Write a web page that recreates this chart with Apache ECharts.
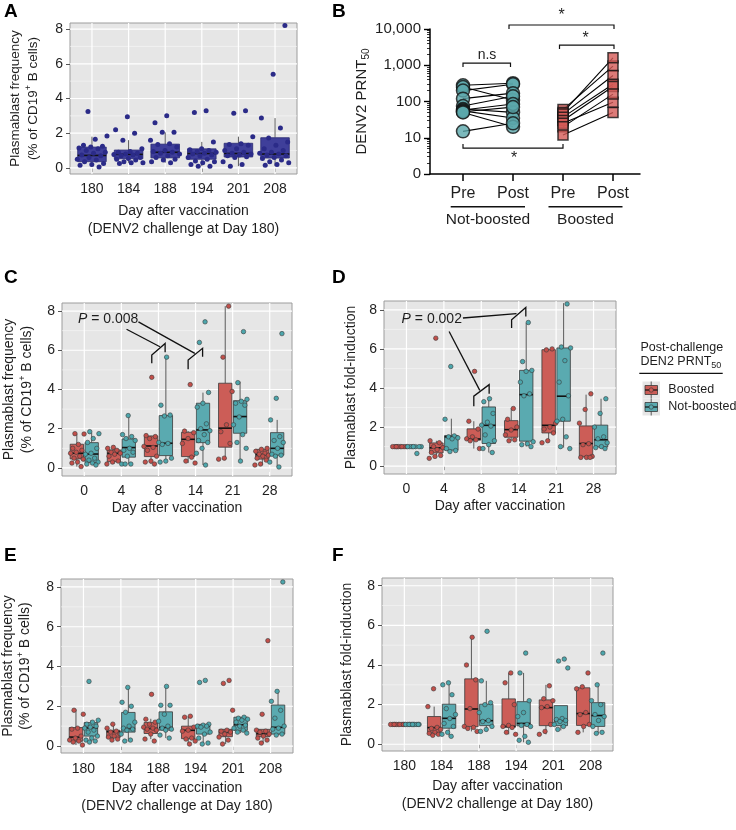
<!DOCTYPE html>
<html><head><meta charset="utf-8">
<script src="https://cdn.jsdelivr.net/npm/echarts@6/dist/echarts.min.js"></script>
<style>html,body{margin:0;padding:0;background:#fff}#c{width:736px;height:830px}</style>
</head><body><div id="c"></div>
<script>
// ================= DATA =================
const daysLate = ['180','184','188','194','201','208'];
const daysEarly = ['0','4','8','14','21','28'];
const yTickVals = [0, 2, 4, 6, 8];
const bTickLabels = ['Pre', 'Post', 'Pre', 'Post'];
const bGroupLabels = ['Not-boosted', 'Boosted'];
const legendLabels = ['Boosted', 'Not-boosted'];

// Panel A: box stats [min, q1, median, q3, max] and points per day
const A_box = [[0.05,0.36,0.72,1.2,1.8],[0.3,0.53,0.78,1.03,1.6],[0.3,0.58,0.9,1.37,2.05],[0.1,0.5,0.83,1.1,1.5],[0.1,0.63,0.83,1.42,1.8],[0.1,0.57,0.8,1.74,2.87]];
const A_pts = [
  [3.25,1.84,1.65,1.3,1.25,1.2,1.15,1.1,1.0,0.9,0.85,0.75,0.7,0.6,0.5,0.45,0.35,0.25,0.2,0.15,0.05],
  [2.95,2.2,2.0,1.6,1.1,0.95,0.9,0.85,0.8,0.78,0.75,0.7,0.6,0.55,0.5,0.45,0.35,0.3,0.3,0.25],
  [3.0,2.6,2.05,2.05,1.6,1.4,1.35,1.2,1.0,0.95,0.9,0.85,0.8,0.7,0.6,0.5,0.45,0.35,0.3],
  [3.3,3.2,1.5,1.1,1.05,1.0,0.95,0.9,0.85,0.8,0.75,0.7,0.6,0.5,0.4,0.35,0.3,0.2,0.1,0.1],
  [3.3,3.15,1.8,1.4,1.35,1.3,1.1,1.0,0.9,0.85,0.8,0.75,0.7,0.65,0.6,0.35,0.2,0.1],
  [8.2,5.4,2.87,2.3,1.72,1.5,1.3,1.1,1.0,0.9,0.85,0.8,0.75,0.7,0.6,0.55,0.45,0.35,0.3,0.2,0.15]
];

// Panel B: DENV2 PRNT50 (paired pre/post)
const nbPre  = [280, 250, 200, 120, 75, 62, 58, 55, 52, 50, 15];
const nbPost = [320, 110, 300, 170, 140, 50, 85, 35, 70, 20, 25];
const bPre   = [60, 50, 45, 37, 30, 25, 20, 12];
const bPost  = [950, 1600, 520, 300, 260, 95, 160, 50];

// Panel C
const C_red_box  = [[0.07,0.46,0.75,1.21,1.73],[0.2,0.32,0.75,0.92,1.05],[0.2,0.58,1.12,1.63,1.65],[0.25,0.58,1.46,1.82,1.88],[0.44,1.06,2.03,4.32,8.25],[0.15,0.45,0.68,0.95,1.0]];
const C_teal_box = [[0.15,0.27,0.71,1.29,1.8],[0.2,0.55,1.04,1.48,2.67],[0.3,0.63,1.26,2.67,5.65],[0.15,1.29,1.94,3.3,3.84],[0.35,1.77,2.62,3.43,4.4],[0.05,0.65,1.0,1.8,2.45]];
const C_red_pts = [
  [1.75,1.73,1.2,1.0,0.9,0.8,0.75,0.6,0.5,0.45,0.3,0.25,0.07],
  [1.05,1.0,0.9,0.8,0.75,0.7,0.6,0.35,0.3,0.2],
  [4.62,1.65,1.6,1.5,1.1,1.05,0.9,0.6,0.35,0.3,0.2],
  [4.25,1.88,1.8,1.5,1.25,0.55,0.35,0.25],
  [8.25,5.65,3.9,2.2,1.85,1.25,0.5,0.45],
  [1.0,0.95,0.85,0.75,0.7,0.65,0.6,0.5,0.4,0.2,0.15]
];
const C_teal_pts = [
  [1.85,1.75,1.5,1.3,1.0,0.75,0.7,0.5,0.4,0.3,0.25,0.2,0.15],
  [2.67,1.7,1.6,1.5,1.4,1.0,0.9,0.8,0.6,0.2,0.2,0.2],
  [5.65,3.2,2.7,2.65,1.3,1.25,1.2,0.5,0.35,0.3],
  [7.45,6.4,3.85,3.3,3.1,2.25,2.0,1.9,1.7,1.4,1.3,1.0,0.75,0.15],
  [6.95,4.35,3.5,3.4,3.3,3.2,2.6,2.2,1.7,1.3,1.0,0.35],
  [6.85,3.55,2.45,1.6,1.4,1.3,1.0,0.7,0.65,0.6,0.3,0.05]
];

// Panel D
const D_red_box  = [[1,1,1,1,1],[0.55,0.68,0.94,1.19,1.3],[0.9,1.33,1.39,1.91,2.3],[1.3,1.48,1.87,2.33,2.97],[1.2,1.7,2.09,5.96,6.0],[0.45,0.48,1.16,2.06,3.66]];
const D_teal_box = [[1,1,1,1,1],[0.75,0.82,1.5,1.57,2.43],[0.7,1.16,2.09,3.03,3.52],[1.0,1.28,3.66,4.9,7.32],[0.95,2.3,3.58,6.05,8.34],[0.9,0.98,1.35,2.1,3.45]];
const D_red_pts = [
  [1,1,1,1,1,1,1,1,1],
  [6.55,1.3,1.2,1.0,0.95,0.85,0.7,0.55,0.5,0.4],
  [4.85,2.3,1.9,1.5,1.4,1.35,1.3,0.9],
  [2.95,2.4,2.0,1.85,1.6,1.35,1.3],
  [6.0,5.95,2.2,2.0,1.9,1.7,1.3,1.2],
  [3.7,2.9,2.2,1.15,1.1,0.5,0.45,0.45,0.45]
];
const D_teal_pts = [
  [1,1,1,1,1,1,1,0.65],
  [5.1,2.4,1.55,1.5,1.45,1.4,0.9,0.8,0.75],
  [3.45,3.3,2.7,2.25,2.1,2.05,1.6,1.3,1.1,0.9,0.7],
  [7.35,5.35,4.9,4.85,4.3,3.7,3.6,1.25,1.15,1.1,1.0],
  [8.3,6.1,6.05,5.4,4.3,3.6,2.4,2.3,1.5,1.0,0.9],
  [3.45,2.7,2.0,1.5,1.4,1.2,1.0,0.95,0.9]
];

// Panel E
const E_red_box  = [[0.05,0.24,0.45,0.93,1.85],[0.3,0.42,0.72,0.79,1.1],[0.35,0.63,0.88,1.18,1.37],[0.1,0.37,0.79,1.0,1.5],[0.1,0.47,0.69,0.84,0.84],[0.15,0.47,0.62,0.84,0.84]];
const E_teal_box = [[0.2,0.5,0.91,1.18,1.3],[0.25,0.7,0.88,1.69,2.95],[0.4,0.8,0.93,1.72,3.02],[0.1,0.6,1.0,1.09,1.1],[0.65,0.79,1.07,1.45,1.45],[0.55,0.6,0.94,2.06,2.8]];
const E_red_pts = [
  [1.8,1.6,0.9,0.85,0.5,0.4,0.3,0.25,0.2,0.05],
  [1.1,0.9,0.75,0.7,0.6,0.5,0.45,0.35,0.3],
  [2.6,1.35,1.2,1.1,0.95,0.9,0.85,0.8,0.6,0.35,0.25],
  [1.5,1.45,0.95,0.8,0.75,0.4,0.35,0.25,0.1],
  [3.3,3.15,1.8,0.8,0.75,0.7,0.6,0.45,0.3,0.1],
  [5.3,1.6,0.8,0.75,0.7,0.6,0.5,0.4,0.3,0.15]
];
const E_teal_pts = [
  [3.25,1.3,1.2,1.1,1.0,0.95,0.9,0.8,0.7,0.5,0.4,0.3,0.25,0.2],
  [2.95,2.2,2.0,1.7,1.2,1.0,0.9,0.85,0.8,0.6,0.3,0.25],
  [3.0,2.05,2.05,1.6,1.25,1.0,0.9,0.85,0.8,0.55,0.4],
  [3.3,3.2,1.1,1.05,1.0,1.0,0.95,0.7,0.6,0.4,0.15,0.1],
  [1.45,1.4,1.35,1.3,1.2,1.05,1.0,0.9,0.8,0.7,0.65],
  [8.25,2.75,2.25,1.8,1.4,1.0,0.9,0.85,0.6,0.55]
];

// Panel F
const F_red_box  = [[1,1,1,1,1],[0.5,0.6,0.84,1.4,1.9],[0.65,0.89,1.78,3.3,5.41],[0.5,0.86,0.9,2.29,3.59],[0.5,0.94,1.85,2.24,3.0],[0.6,0.95,1.55,2.85,3.0]];
const F_teal_box = [[1,1,1,1,1],[0.4,0.81,1.31,2.02,3.08],[0.65,0.94,1.19,2.02,3.2],[0.1,0.93,1.05,2.15,3.6],[0.7,0.94,1.2,1.95,1.95],[0.55,0.9,1.45,2.1,3.0]];
const F_red_pts = [
  [1,1,1,1,1,1,1,1,1,1],
  [2.8,1.9,0.85,0.8,0.75,0.6,0.55,0.5,0.45],
  [5.4,4.0,3.25,1.8,0.9,0.85,0.8,0.65],
  [3.6,3.1,2.0,0.95,0.9,0.85,0.6,0.5],
  [2.95,2.3,2.2,1.9,1.85,1.0,0.65,0.5],
  [3.6,2.9,2.8,1.6,1.5,1.0,0.9,0.6]
];
const F_teal_pts = [
  [1,1,1,1,1,1,1,1,1,1,1],
  [3.1,3.0,2.5,1.8,1.5,1.3,1.05,0.9,0.6,0.5,0.4],
  [5.7,3.2,2.1,2.0,1.6,1.2,1.15,0.9,0.75,0.65],
  [4.6,3.6,2.2,1.6,1.4,1.0,0.95,0.9,0.4,0.2,0.1],
  [4.3,4.2,3.85,1.3,1.25,1.2,1.15,1.0,0.9,0.75],
  [4.6,3.0,2.2,2.0,1.5,1.4,1.2,0.9,0.6,0.55]
];

// ================= STYLE / LAYOUT =================
const FONT = '"Liberation Sans", Arial, Helvetica, sans-serif';
const TXT = '#1e1e1e';
const RED = '#cc5d57', TEAL = '#5aaab0', BLUE = '#3f3f9a';
const RED_PT = '#c24f4a', TEAL_PT = '#4ca6ac', BLUE_PT = '#2b2b88';
const PANEL_BG = '#e6e6e6', PANEL_BORDER = '#9c9c9c';

function jit(i) { const f = (i * 0.6180339887 + 0.37) % 1; return f - 0.5; }

const grids = [
  {left:70, top:23, width:227, height:151},      // A
  {left:430, top:29, width:210, height:145},     // B
  {left:62, top:303, width:230, height:173},     // C
  {left:384, top:301, width:232, height:173},    // D
  {left:61, top:579, width:232, height:174},     // E
  {left:382, top:578, width:231, height:173}     // F
].map((g, i) => Object.assign({
  show: i !== 1, backgroundColor: PANEL_BG, borderColor: PANEL_BORDER, borderWidth: 1,
  containLabel: false, outerBoundsMode: 'none'
}, g));

const richName = {
  sup: {fontSize: 9, fontFamily: FONT, color: TXT, verticalAlign: 'top', lineHeight: 10},
  sub: {fontSize: 10, fontFamily: FONT, color: TXT, verticalAlign: 'bottom', lineHeight: 10}
};

function catX(gi, cats, name, gap, margin) {
  return {
    gridIndex: gi, type: 'value', min: 0.4, max: 6.6,
    axisLine: {show: false}, splitLine: {show: false},
    axisTick: {show: true, customValues: [1,2,3,4,5,6], length: 4, lineStyle: {color: '#555', width: 1}},
    axisLabel: {customValues: [1,2,3,4,5,6], formatter: v => cats[Math.round(v) - 1], fontSize: 14, color: TXT, fontFamily: FONT, margin: margin},
    name: name, nameLocation: 'middle', nameGap: gap,
    nameTextStyle: {fontSize: 14, color: TXT, fontFamily: FONT, lineHeight: 18}
  };
}
function valY(gi, min, max, name, gap, size, lh) {
  return {
    gridIndex: gi, type: 'value', min: min, max: max,
    axisLine: {show: false}, splitLine: {show: false},
    axisTick: {show: true, customValues: yTickVals, length: 4, lineStyle: {color: '#555', width: 1}},
    axisLabel: {customValues: yTickVals, fontSize: 14, color: TXT, fontFamily: FONT, margin: 7},
    name: name, nameLocation: 'middle', nameGap: gap,
    nameTextStyle: {fontSize: size, color: TXT, fontFamily: FONT, lineHeight: lh, rich: richName}
  };
}

const xAxes = [
  catX(0, daysLate, 'Day after vaccination\n(DENV2 challenge at Day 180)', 28, 8),
  {
    gridIndex: 1, type: 'value', min: 0.34, max: 4.54,
    axisLine: {show: true, lineStyle: {color: '#000', width: 1.5}}, splitLine: {show: false},
    axisTick: {show: true, customValues: [1,2,3,4], length: 7, lineStyle: {color: '#000', width: 1.5}},
    axisLabel: {customValues: [1,2,3,4], formatter: v => bTickLabels[Math.round(v) - 1], fontSize: 16, color: TXT, fontFamily: FONT, margin: 12}
  },
  catX(2, daysEarly, 'Day after vaccination', 23, 8),
  catX(3, daysEarly, 'Day after vaccination', 23, 8),
  catX(4, daysLate, 'Day after vaccination\n(DENV2 challenge at Day 180)', 26, 9),
  catX(5, daysLate, 'Day after vaccination\n(DENV2 challenge at Day 180)', 26, 8)
];
const yAxes = [
  valY(0, -0.35, 8.35, 'Plasmablast frequency\n(% of CD19{sup|+} B cells)', 28, 13.5, 18),
  {
    gridIndex: 1, type: 'log', logBase: 10, min: 1, max: 10000,
    axisLine: {show: true, lineStyle: {color: '#000', width: 1.5}}, splitLine: {show: false},
    axisTick: {show: true, length: 6, lineStyle: {color: '#000', width: 1.4}},
    minorTick: {show: true, splitNumber: 9, length: 3, lineStyle: {color: '#000', width: 0.8}},
    minorSplitLine: {show: false},
    axisLabel: {formatter: v => (v <= 1 ? '0' : Number(v).toLocaleString('en-US')), fontSize: 15, color: TXT, fontFamily: FONT, margin: 9},
    name: 'DENV2 PRNT{sub|50}', nameLocation: 'middle', nameGap: 57,
    nameTextStyle: {fontSize: 15, color: TXT, fontFamily: FONT, lineHeight: 18, rich: richName}
  },
  valY(2, -0.41, 8.41, 'Plasmablast frequency\n(% of CD19{sup|+} B cells)', 26, 14, 18),
  valY(3, -0.4, 8.45, 'Plasmablast fold-induction', 24, 14, 18),
  valY(4, -0.35, 8.4, 'Plasmablast frequency\n(% of CD19{sup|+} B cells)', 27, 14, 17.5),
  valY(5, -0.34, 8.39, 'Plasmablast fold-induction', 26, 14, 18)
];

// ================= SERIES =================
function gridLines(gi) {
  const data = [];
  [0,2,4,6,8].forEach(v => data.push([0, v]));
  [1,3,5,7].forEach(v => data.push([1, v]));
  [1,2,3,4,5,6].forEach(v => data.push([2, v]));
  return {
    type: 'custom', xAxisIndex: gi, yAxisIndex: gi, z: 1, silent: true, data: data,
    renderItem: (params, api) => {
      const cs = params.coordSys, kind = api.value(0), v = api.value(1);
      if (kind === 2) {
        const p = api.coord([v, 1]);
        return {type: 'line', shape: {x1: p[0], y1: cs.y, x2: p[0], y2: cs.y + cs.height}, style: {stroke: '#fff', lineWidth: 1.2}};
      }
      const p = api.coord([1, v]);
      return {type: 'line', shape: {x1: cs.x, y1: p[1], x2: cs.x + cs.width, y2: p[1]},
        style: {stroke: kind === 0 ? '#ffffff' : '#f6f6f6', lineWidth: kind === 0 ? 1.2 : 0.6}};
    }
  };
}
function boxSeries(gi, boxes, offset, width, color, edge) {
  return {
    type: 'custom', xAxisIndex: gi, yAxisIndex: gi, z: 3, silent: true,
    data: boxes.map((b, k) => [k + 1 + offset].concat(b)),
    encode: {x: 0, y: [1,2,3,4,5]},
    renderItem: (params, api) => {
      const x = api.value(0);
      const lo = api.coord([x, api.value(1)]), q1 = api.coord([x, api.value(2)]);
      const md = api.coord([x, api.value(3)]), q3 = api.coord([x, api.value(4)]);
      const hi = api.coord([x, api.value(5)]);
      const w = api.size([width, 0])[0];
      return {type: 'group', children: [
        {type: 'line', shape: {x1: lo[0], y1: lo[1], x2: q1[0], y2: q1[1]}, style: {stroke: '#5a5a5a', lineWidth: 1}},
        {type: 'line', shape: {x1: q3[0], y1: q3[1], x2: hi[0], y2: hi[1]}, style: {stroke: '#5a5a5a', lineWidth: 1}},
        {type: 'rect', shape: {x: q1[0] - w / 2, y: q3[1], width: w, height: Math.max(q1[1] - q3[1], 0.5)}, style: {fill: color, stroke: edge || '#3a3a3a', lineWidth: 0.8}},
        {type: 'line', shape: {x1: md[0] - w / 2, y1: md[1], x2: md[0] + w / 2, y2: md[1]}, style: {stroke: '#111', lineWidth: 1.6}}
      ]};
    }
  };
}
function ptSeries(gi, pts, offset, spread, color, size, border, bw) {
  const data = [];
  pts.forEach((arr, k) => arr.forEach((v, i) => data.push([k + 1 + offset + jit(i + k * 5) * spread, v])));
  return {type: 'scatter', xAxisIndex: gi, yAxisIndex: gi, z: 4, silent: true, symbolSize: size, data: data,
    itemStyle: {color: color, borderColor: border, borderWidth: bw, opacity: 1}};
}
function annoSeries(gi, items) {
  return {
    type: 'custom', xAxisIndex: gi, yAxisIndex: gi, z: 6, silent: true, clip: false, data: [[1, 1]],
    renderItem: (params, api) => ({type: 'group', children: items.map(it => {
      if (it.poly) return {type: 'polyline', shape: {points: it.poly.map(p => api.coord(p))}, style: {stroke: '#111', lineWidth: it.lw || 1.3, fill: null}};
      const p = api.coord(it.at);
      return {type: 'text', x: p[0], y: p[1], style: {text: it.text, rich: it.rich, fontSize: it.size || 14, fontFamily: FONT, fill: TXT, align: it.align || 'center', verticalAlign: 'middle'}};
    })})
  };
}
function pairLines(gi, xa, xb, pre, post) {
  return {
    type: 'custom', xAxisIndex: gi, yAxisIndex: gi, z: 3, silent: true,
    data: pre.map((v, i) => [xa, v, xb, post[i]]), encode: {x: [0, 2], y: [1, 3]},
    renderItem: (params, api) => {
      const a = api.coord([api.value(0), api.value(1)]), b = api.coord([api.value(2), api.value(3)]);
      return {type: 'line', shape: {x1: a[0], y1: a[1], x2: b[0], y2: b[1]}, style: {stroke: '#000', lineWidth: 1.1}};
    }
  };
}

const italicP = {i: {fontStyle: 'italic', fontSize: 14, fontFamily: FONT, fill: TXT, color: TXT}};

const series = [];
// A
series.push(gridLines(0), boxSeries(0, A_box, 0, 0.78, BLUE, '#2a2a70'), ptSeries(0, A_pts, 0, 0.84, BLUE_PT, 5, BLUE_PT, 0));
// B
series.push(pairLines(1, 1, 2, nbPre, nbPost), pairLines(1, 3, 4, bPre, bPost));
series.push({type: 'scatter', xAxisIndex: 1, yAxisIndex: 1, z: 4, silent: true, symbol: 'circle', symbolSize: 13,
  data: nbPre.map(v => [1, v]).concat(nbPost.map(v => [2, v])), itemStyle: {color: '#5ba8ab', borderColor: '#111', borderWidth: 1.5}});
series.push({type: 'scatter', xAxisIndex: 1, yAxisIndex: 1, z: 4, silent: true, symbol: 'rect', symbolSize: 10,
  data: bPre.map(v => [3, v]).concat(bPost.map(v => [4, v])), itemStyle: {color: '#d35a56', borderColor: '#111', borderWidth: 1.5}});
series.push(annoSeries(1, [
  {poly: [[1.0, 890], [1.0, 1140], [1.95, 1140], [1.95, 890]], lw: 1.2},
  {text: 'n.s', at: [1.48, 1900], size: 14},
  {poly: [[1.92, 10000], [1.92, 12900], [4.02, 12900], [4.02, 10000]], lw: 1.2},
  {text: '*', at: [2.97, 24000], size: 16},
  {poly: [[2.93, 2800], [2.93, 3600], [4.02, 3600], [4.02, 2800]], lw: 1.2},
  {text: '*', at: [3.45, 5600], size: 16},
  {poly: [[1.0, 6.7], [1.0, 5.2], [3.0, 5.2], [3.0, 6.7]], lw: 1.2},
  {text: '*', at: [2.02, 2.6], size: 16},
  {poly: [[0.754, 0.125], [2.24, 0.125]], lw: 1.5},
  {poly: [[2.71, 0.125], [4.19, 0.125]], lw: 1.5},
  {text: bGroupLabels[0], at: [1.5, 0.054], size: 15.5},
  {text: bGroupLabels[1], at: [3.45, 0.054], size: 15.5}
]));
// C, D, E, F
[[2, C_red_box, C_teal_box, C_red_pts, C_teal_pts],
 [3, D_red_box, D_teal_box, D_red_pts, D_teal_pts],
 [4, E_red_box, E_teal_box, E_red_pts, E_teal_pts],
 [5, F_red_box, F_teal_box, F_red_pts, F_teal_pts]].forEach(([gi, rb, tb, rp, tp]) => {
  series.push(gridLines(gi),
    boxSeries(gi, rb, -0.2, 0.36, RED), boxSeries(gi, tb, 0.2, 0.36, TEAL),
    ptSeries(gi, rp, -0.2, 0.4, RED_PT, 4.5, '#3a3a3a', 0.6), ptSeries(gi, tp, 0.2, 0.4, TEAL_PT, 4.5, '#3a3a3a', 0.6));
});
series.push(annoSeries(2, [
  {text: '{i|P} = 0.008', at: [0.83, 7.59], align: 'left', rich: italicP},
  {poly: [[2.14, 7.07], [3.04, 6.18]]},
  {poly: [[2.46, 7.45], [3.98, 5.84]]},
  {poly: [[2.82, 5.34], [2.82, 5.76], [3.18, 6.35], [3.18, 5.9]]},
  {poly: [[3.80, 5.03], [3.80, 5.5], [4.19, 6.1], [4.19, 5.67]]}
]));
series.push(annoSeries(3, [
  {text: '{i|P} = 0.002', at: [0.87, 7.53], align: 'left', rich: italicP},
  {poly: [[2.14, 6.89], [2.96, 3.88]]},
  {poly: [[2.51, 7.58], [3.94, 7.8]]},
  {poly: [[2.80, 3.06], [2.80, 3.58], [3.21, 4.17], [3.21, 3.71]]},
  {poly: [[3.81, 7.07], [3.81, 7.49], [4.19, 8.12], [4.19, 7.66]]}
]));

// ================= GRAPHIC (panel letters, legend) =================
function letter(t, x, y) {
  return {type: 'text', x: x, y: y, style: {text: t, fontSize: 19, fontWeight: 'bold', fontFamily: FONT, fill: '#000', align: 'left', verticalAlign: 'middle'}};
}
function legendKey(y, color) {
  return {type: 'group', children: [
    {type: 'rect', shape: {x: 642.5, y: y - 8.5, width: 17.5, height: 17}, style: {fill: '#e6e6e6'}},
    {type: 'line', shape: {x1: 651.2, y1: y - 8.5, x2: 651.2, y2: y + 8.5}, style: {stroke: '#5a5a5a', lineWidth: 1}},
    {type: 'rect', shape: {x: 645, y: y - 4.5, width: 12.5, height: 9}, style: {fill: color, stroke: '#3a3a3a', lineWidth: 0.8}},
    {type: 'line', shape: {x1: 645, y1: y, x2: 657.5, y2: y}, style: {stroke: '#111', lineWidth: 1.2}},
    {type: 'circle', shape: {cx: 651.2, cy: y, r: 2.2}, style: {fill: color, stroke: '#333', lineWidth: 0.6}}
  ]};
}
const graphics = [
  letter('A', 4, 12), letter('B', 332, 12), letter('C', 4, 278), letter('D', 332, 278), letter('E', 4, 556), letter('F', 332, 556),
  {type: 'text', x: 640.5, y: 347.5, style: {text: 'Post-challenge', fontSize: 12.5, fontFamily: FONT, fill: TXT, align: 'left', verticalAlign: 'middle'}},
  {type: 'text', x: 640.5, y: 362, style: {text: 'DEN2 PRNT{sub|50}', fontSize: 12.5, fontFamily: FONT, fill: TXT, align: 'left', verticalAlign: 'middle', lineHeight: 16,
    rich: {sub: {fontSize: 9, fontFamily: FONT, fill: TXT, verticalAlign: 'bottom', lineHeight: 9}}}},
  {type: 'line', shape: {x1: 639.3, y1: 373.3, x2: 722.7, y2: 373.3}, style: {stroke: '#111', lineWidth: 1.2}},
  legendKey(390, RED), legendKey(407, TEAL),
  {type: 'text', x: 668.3, y: 390, style: {text: legendLabels[0], fontSize: 12.5, fontFamily: FONT, fill: TXT, align: 'left', verticalAlign: 'middle'}},
  {type: 'text', x: 668.3, y: 407, style: {text: legendLabels[1], fontSize: 12.5, fontFamily: FONT, fill: TXT, align: 'left', verticalAlign: 'middle'}}
];

const chart = echarts.init(document.getElementById('c'), null, {renderer: 'canvas'});
chart.setOption({
  animation: false,
  backgroundColor: '#fff',
  textStyle: {fontFamily: FONT},
  grid: grids, xAxis: xAxes, yAxis: yAxes, series: series, graphic: graphics
});
</script></body></html>
